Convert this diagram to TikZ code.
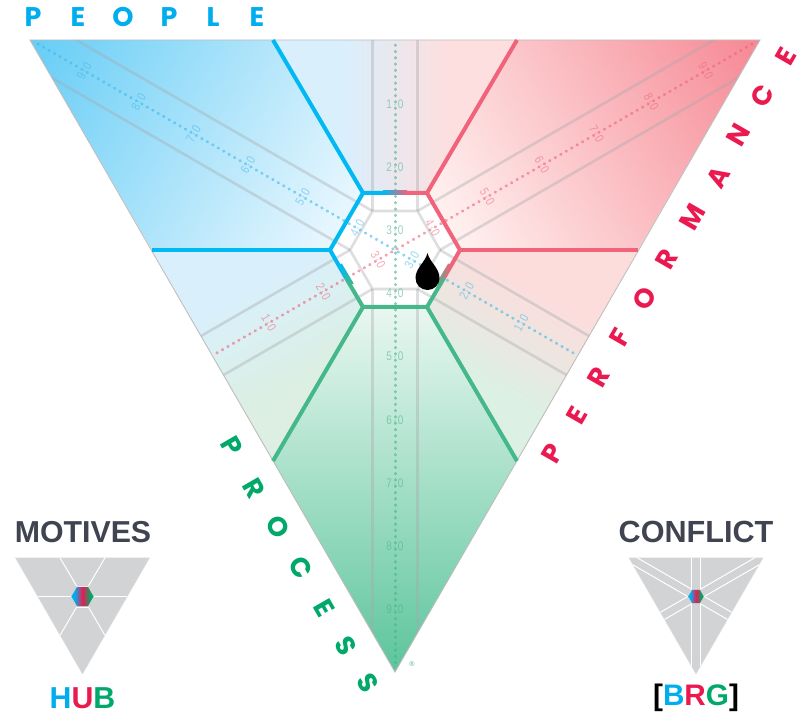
\documentclass[tikz,border=0pt]{standalone}
\usepackage{fontspec}
\setmainfont{Liberation Sans}
\newfontfamily\capsfont{Poppins}
\newfontfamily\numfont[FakeStretch=0.8]{Liberation Sans}
\definecolor{hubblue}{HTML}{00B9F2}
\definecolor{hubred}{HTML}{F0637A}
\definecolor{hubgreen}{HTML}{44B88A}
\definecolor{txtblue}{HTML}{00AEEF}
\definecolor{txtred}{HTML}{EA1A50}
\definecolor{txtgreen}{HTML}{00A869}
\definecolor{ink}{HTML}{3F4450}
\definecolor{dotblue}{HTML}{3DB8EC}
\definecolor{dotred}{HTML}{F0607A}
\definecolor{dotgreen}{HTML}{45B386}
\definecolor{greyline}{HTML}{A7A9AC}
\definecolor{thumbgrey}{HTML}{D1D3D4}
\definecolor{edgegrey}{HTML}{BDBDBD}
\pgfdeclarehorizontalshading{hexstripes}{100bp}{color(0bp)=(txtblue); color(32bp)=(txtblue); color(50bp)=(txtred); color(68bp)=(txtgreen); color(100bp)=(txtgreen)}
\newcounter{gradn}
% axial gradient clipped to a polygon: colour 1 at point 1, colour 2 at point 2
\newcommand{\gradpoly}[7]{%
  \begin{scope}
    \definecolor{gradA}{HTML}{#6}\definecolor{gradB}{HTML}{#7}%
    \stepcounter{gradn}%
    \clip #1;
    \pgfmathsetmacro{\mx}{(#2+#4)/2}
    \pgfmathsetmacro{\my}{(#3+#5)/2}
    \pgfmathsetmacro{\hl}{0.5*veclen(#4-#2,#5-#3)}
    \pgfmathsetmacro{\lo}{50-25*\hl/600}
    \pgfmathsetmacro{\hi}{50+25*\hl/600}
    \pgfmathsetmacro{\ang}{atan2(-(#2-#4),(#5-#3))}
    \pgfdeclareverticalshading{gs\thegradn}{100bp}{color(0bp)=(gradB); color(\lo bp)=(gradB); color(\hi bp)=(gradA); color(100bp)=(gradA)}
    \shade[shading=gs\thegradn,shading angle=\ang] ({\mx-600},{\my-600}) rectangle ({\mx+600},{\my+600});
  \end{scope}}
\tikzset{
  coloredge/.style={line width=4pt,line join=miter},
  greystroke/.style={draw=greyline,line width=2.6pt,opacity=.38},
  dots/.style={line width=3pt,line cap=round,dash pattern=on 0.5pt off 5.8pt,opacity=.6},
  numlabel/.style={font=\numfont\fontsize{12.5}{12.5}\selectfont,inner sep=0pt,opacity=.55},
  capletter/.style={font=\capsfont\bfseries\fontsize{27}{27}\selectfont,inner sep=0pt},
  headline/.style={font=\bfseries\fontsize{30.3}{30.3}\selectfont,inner sep=0pt,text=ink},
  thumbline/.style={draw=white,line width=1pt},
  thumbfill/.style={fill=thumbgrey,draw=edgegrey!50,line width=.5pt},
}
\newcommand{\numtext}[1]{#1\kern1.3pt·\kern1.3pt0}
\begin{document}
\begin{tikzpicture}[x=1pt,y=-1pt]
\useasboundingbox (0,0) rectangle (807,714);
% colour fields
\gradpoly{(30,40)--(273,40)--(363,193)--(330,250)--(152,250)--cycle}{30}{40}{345}{222}{66CDF6}{E9F7FE}
\gradpoly{(273,40)--(517,40)--(427,193)--(363,193)--cycle}{345}{100}{445}{100}{D9EFFC}{FDDFDF}
\gradpoly{(517,40)--(760,40)--(638,250)--(460,250)--(427,193)--cycle}{760}{40}{445}{222}{F68894}{FFF1EF}
\gradpoly{(152,250)--(330,250)--(363,307)--(273,461)--cycle}{270}{276}{325}{372}{D9F0FC}{DCEFE2}
\gradpoly{(638,250)--(460,250)--(427,307)--(517,461)--cycle}{520}{276}{465}{372}{FDDCDC}{DCF0E4}
\gradpoly{(363,307)--(427,307)--(517,461)--(395,672)--(273,461)--cycle}{395}{307}{395}{672}{E9F7F1}{5CC59C}
\fill[white] (363,193)--(427,193)--(460,250)--(427,307)--(363,307)--(330,250)--cycle;
% grey guide lines
\begin{scope}
  \clip (30,40)--(760,40)--(395,672)--cycle;
  \begin{scope}[shift={(395,250)}]
    \foreach \v/\a in {60/90,60/30,0/30,0/-30,-60/-30,-60/-90,-120/-90,-120/-150,180/-150,180/150,120/150,120/90}
      \draw[greystroke] (-\v:45) -- ++(-\a:800);
    \draw[greystroke,line join=round] (0:45)--(60:45)--(120:45)--(180:45)--(240:45)--(300:45)--cycle;
  \end{scope}
\end{scope}
% triangle outline
\draw[edgegrey,line width=.9pt,line join=miter] (30,40)--(760,40)--(395,672)--cycle;
% dotted axes
\coordinate (greyTop) at (395,45);
\coordinate (greyEnd) at (395,666);
\coordinate (blueTop) at (38,44);
\coordinate (blueEnd) at (575,354);
\coordinate (redTop) at (752,44);
\coordinate (redEnd) at (215,354);
\draw[dots,dotgreen] (greyTop) -- (greyEnd);
\draw[dots,dotblue] (blueTop) -- (blueEnd);
\draw[dots,dotred] (redTop) -- (redEnd);
% scale labels
\begin{scope}[shift={(395,250)}]
  \foreach \n in {1,...,9}{
    \pgfmathsetmacro{\d}{(\n-3.31)*63.1}
    \node[numlabel,text=dotgreen] (g\n) at (90:\d) {\numtext{\n}};
    \node[numlabel,text=dotblue,rotate=60] (b\n) at (-150:\d) {\numtext{\n}};
    \node[numlabel,text=dotred,rotate=-60] (r\n) at (-30:\d) {\numtext{\n}};
  }
\end{scope}
% coloured borders
\draw[hubblue,coloredge] (273,40) -- (363,193);
\draw[hubblue,coloredge] (152,250) -- (330,250);
\draw[hubred,coloredge] (517,40) -- (427,193);
\draw[hubred,coloredge] (638,250) -- (460,250);
\draw[hubgreen,coloredge] (273,461) -- (363,307);
\draw[hubgreen,coloredge] (517,461) -- (427,307);
\draw[hubblue,coloredge] (346,278)--(330,250)--(363,193)--(395,193);
\draw[hubred,coloredge] (395,193)--(427,193)--(460,250)--(444,278);
\draw[hubgreen,coloredge] (346,278)--(363,307)--(427,307)--(444,278);
\gradpoly{(383,191)--(407,191)--(407,195)--(383,195)--cycle}{383}{193}{407}{193}{00B9F2}{F0637A}
\gradpoly{(338.3,265.5)--(341.8,263.5)--(353.7,283.5)--(350.2,285.5)--cycle}{340}{264.5}{352}{284.5}{00B9F2}{44B88A}
\gradpoly{(451.7,265.5)--(448.2,263.5)--(436.3,283.5)--(439.8,285.5)--cycle}{450}{264.5}{438}{284.5}{F0637A}{44B88A}
% droplet marker
\fill[black] (427.5,253) .. controls (429.5,262) and (439.5,268) .. (439.5,278) .. controls (439.5,285) and (434,290) .. (427.5,290) .. controls (421,290) and (415.5,285) .. (415.5,278) .. controls (415.5,268) and (425.5,262) .. (427.5,253) -- cycle;
% rim letters
\foreach[count=\i] \ch/\x/\y in {P/33/17,E/78/17,O/123/17,P/169/17,L/213/17,E/257/17}
  \node[capletter,text=txtblue] (people\i) at (\x,\y) {\ch};
\foreach[count=\i] \ch/\x/\y in {P/553/453,E/577/415,R/599/377,F/620/337,O/645/299,R/667/259,M/692/217,A/718/177,N/738/135,C/762/96,E/786/56}
  \node[capletter,text=txtred,rotate=60] (perf\i) at (\x,\y) {\ch};
\foreach[count=\i] \ch/\x/\y in {P/232/446,R/254/488,O/278/527,C/301/568,E/324/608,S/346/646,S/368/683}
  \node[capletter,text=txtgreen,rotate=-60] (proc\i) at (\x,\y) {\ch};
\node[inner sep=0pt,text=hubgreen,font=\fontsize{7}{7}\selectfont] (reg) at (412,664) {®};
% left thumbnail
\begin{scope}[shift={(82.5,596.5)},scale=.1836]
  \path[thumbfill] (-365,-210)--(365,-210)--(0,422)--cycle;
  \foreach \px/\py/\qx/\qy in {-122/-210/-32/-57,122/-210/32/-57,-243/0/-65/0,243/0/65/0,-122/211/-32/57,122/211/32/57}
    \draw[thumbline] (\px,\py) -- (\qx,\qy);
  \draw[thumbline,line width=.8pt] (-32,-57)--(32,-57) (32,57)--(-32,57);
  \shade[shading=hexstripes] (-60,0)--(-30,-52)--(30,-52)--(60,0)--(30,52)--(-30,52)--cycle;
\end{scope}
% right thumbnail
\begin{scope}[shift={(696,596.5)},scale=.1836]
  \path[thumbfill] (-365,-210)--(365,-210)--(0,422)--cycle;
  \begin{scope}
    \clip (-365,-210)--(365,-210)--(0,422)--cycle;
    \foreach \v/\a in {60/90,60/30,0/30,0/-30,-60/-30,-60/-90,-120/-90,-120/-150,180/-150,180/150,120/150,120/90}
      \draw[thumbline] (-\v:45) -- ++(-\a:800);
  \end{scope}
  \shade[shading=hexstripes] (-42,0)--(-21,-36)--(21,-36)--(42,0)--(21,36)--(-21,36)--cycle;
\end{scope}
% headings
\node[headline] (motives) at (83,532) {MOTIVES};
\node[headline,font=\bfseries\fontsize{30.6}{30.6}\selectfont] (conflict) at (696,532) {CONFLICT};
\node[headline] (hub) at (82.5,698) {\textcolor{txtblue}{H}\textcolor{txtred}{U}\textcolor{txtgreen}{B}};
\node[headline,text=black,font=\bfseries\fontsize{29.7}{29.7}\selectfont] (brg) at (696,698) {[\textcolor{txtblue}{B}\textcolor{txtred}{R}\textcolor{txtgreen}{G}]};
\end{tikzpicture}
\end{document}
